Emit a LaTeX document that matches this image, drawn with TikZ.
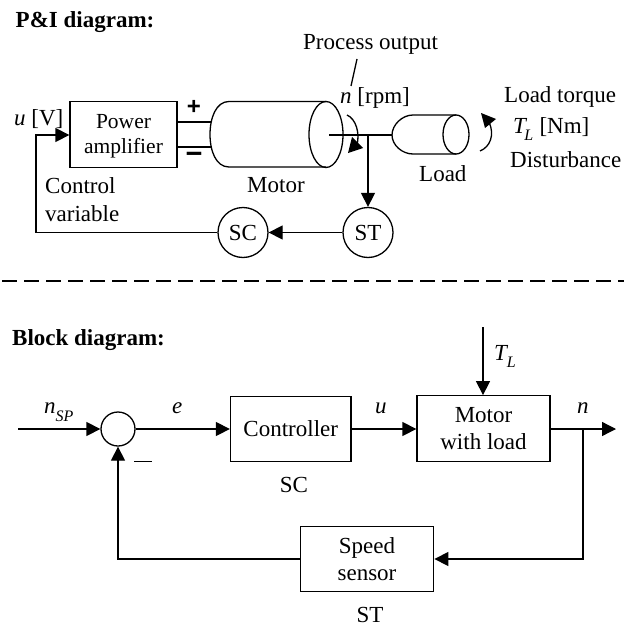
\documentclass[tikz,border=0pt]{standalone}
\usepackage{fontspec}
\setmainfont{Liberation Serif}
\newfontfamily\signfont{Liberation Sans}
\usetikzlibrary{arrows.meta}
\tikzset{
  x=1pt,y=-1pt,
  ln/.style={line width=1.3pt,line join=miter},
  arr/.style={ln,-{Triangle[length=14pt,width=14pt]}},
  box/.style={draw,line width=1.3pt,minimum width=#1,minimum height=65.5pt,inner sep=0pt,font=\fontsize{23}{23}\selectfont,align=center},
  circ/.style={draw,circle,line width=1.3pt,minimum size=50pt,inner sep=0pt,font=\fontsize{23}{23}\selectfont},
  txt/.style={inner sep=0pt,anchor=base west,font=\fontsize{23}{23}\selectfont},
  txtc/.style={inner sep=0pt,anchor=base,font=\fontsize{23}{23}\selectfont},
  small/.style={inner sep=0pt,anchor=base,font=\fontsize{21.5}{21.5}\selectfont},
  head/.style={inner sep=0pt,anchor=base west,font=\fontsize{23}{23}\selectfont\bfseries},
  sign/.style={inner sep=0pt,font=\fontsize{#1}{#1}\selectfont\bfseries\signfont},
}
\begin{document}
\begin{tikzpicture}
\useasboundingbox (0,0) rectangle (624,626);
% --- P&I
\node[head] (h1) at (15.5,28) {P\&I diagram:};
\node[txt] (po) at (303,50) {Process output};
\coordinate (poa) at (357,59); \coordinate (pob) at (351,86);
\draw[ln] (poa) -- (pob);
\node[txt] (nr) at (340,103) {\textit{n} [rpm]};
\node[txt] (lt) at (504,102) {Load torque};
\node[txt] (tl) at (513,133) {\textit{T}\hspace{-3pt}\raisebox{-7pt}{\fontsize{16}{16}\selectfont\textit{L}}\hspace{0.5pt} [Nm]};
\node[txt] (dist) at (510,167) {Disturbance};
\node[txt] (loadt) at (419,181) {Load};
\node[txt] (mott) at (247,192) {Motor};
\node[txt] (cv1) at (45,193) {Control};
\node[txt] (cv2) at (45,221) {variable};
\node[txt] (uv) at (14,125) {\textit{u} [V]};
\node[draw,line width=1.3pt,minimum width=107pt,minimum height=65.5pt,inner sep=0pt] (pa) at (123.5,134.5) {};
\node[small] (pa1) at (123.5,128) {Power};
\node[small] (pa2) at (123.5,153) {amplifier};
\node[sign=24] (plus) at (194,107) {+};
\node[sign=29] (minus) at (194,157.5) {−};
% motor
\coordinate (wa) at (177,122); \coordinate (wb) at (211,122);
\coordinate (wc) at (177,147); \coordinate (wd) at (211,147);
\draw[ln] (wa) -- (wb) (wc) -- (wd);
\draw[ln] (326,101.5) -- (229,101.5) .. controls (216,101.5) and (210,118) .. (210,134.5) .. controls (210,151) and (216,167) .. (229,167) -- (326,167);
\draw[ln] (326,134.5) ellipse [x radius=17,y radius=33];
% shaft and load
\coordinate (sa) at (329,135); \coordinate (sb) at (392,135); \coordinate (sj) at (368,135);
\draw[line width=2.2pt] (sa) -- (sb);
\draw[ln] (456,115) -- (413,115) .. controls (402,115) and (392,125) .. (392,135) .. controls (392,145) and (402,154) .. (413,154) -- (456,154);
\draw[ln] (456,134.5) ellipse [x radius=13,y radius=19.5];
% rotation arrows
\coordinate (ra) at (347,115);
\draw[ln] (ra) .. controls (356,119) and (360,133) .. (357,145);
\fill (348,153) -- (352,137) -- (363,148) -- cycle;
\coordinate (rc) at (480,151);
\draw[ln] (rc) .. controls (490,147) and (495,135) .. (489,122);
\fill (481,113) -- (496,119) -- (485,128) -- cycle;
% loop
\node[circ] (sc) at (243,232.5) {SC};
\node[circ] (st) at (368,232.5) {ST};
\draw[arr] (sj) -- (st.north);
\draw[arr] (st) -- (sc);
\coordinate (c1) at (36,232.5); \coordinate (c2) at (36,135);
\draw[arr] (sc) -- (c1) -- (c2) -- (pa.west |- c2);
% separator
\coordinate (da) at (2,281); \coordinate (db) at (624,281);
\draw[line width=1.3pt,dash pattern=on 15pt off 7pt] (da) -- (db);
% --- Block
\node[head] (h2) at (12,345) {Block diagram:};
\node[draw,circle,line width=1.3pt,minimum size=34pt,inner sep=0pt] (sum) at (118,429) {};
\node[box=120.5pt] (ctl) at (290.75,429) {};
\node[txtc] (ctlt) at (290.75,436) {Controller};
\node[box=133pt] (mot) at (483.5,428.5) {};
\node[txtc] (m1) at (483.5,422) {Motor};
\node[txtc] (m2) at (483.5,449) {with load};
\node[box=133.5pt] (spd) at (367,559) {};
\node[txtc] (s1) at (367,553) {Speed};
\node[txtc] (s2) at (367,580) {sensor};
\coordinate (in) at (18,429); \coordinate (out) at (616,429); \coordinate (top) at (483,327);
\coordinate (br) at (583,429); \coordinate (brd) at (583,559); \coordinate (fb) at (118,559);
\draw[arr] (in) -- (sum.west);
\draw[arr] (sum.east) -- (ctl.west);
\draw[arr] (ctl.east |- 0,429) -- (mot.west |- 0,429);
\draw[arr] (mot.east |- 0,429) -- (out);
\draw[arr] (top) -- (mot.north -| top);
\draw[arr] (br) -- (brd) -- (spd.east);
\draw[arr] (spd.west) -- (fb) -- (sum.south);
\coordinate (ma) at (134,461.5); \coordinate (mb) at (152,461.5);
\draw[ln] (ma) -- (mb);
\node[txt] (nsp) at (44,413) {\textit{n}\raisebox{-8pt}{\fontsize{16}{16}\selectfont\textit{SP}}};
\node[txt] (e) at (172,413) {\textit{e}};
\node[txt] (u) at (375,413) {\textit{u}};
\node[txt] (n) at (577,413) {\textit{n}};
\node[txt] (tl2) at (494,360) {\textit{T}\hspace{-1.5pt}\raisebox{-7pt}{\fontsize{16}{16}\selectfont\textit{L}}};
\node[txtc] (sct) at (294,492) {SC};
\node[txtc] (stt) at (370,622) {ST};
\end{tikzpicture}
\end{document}
